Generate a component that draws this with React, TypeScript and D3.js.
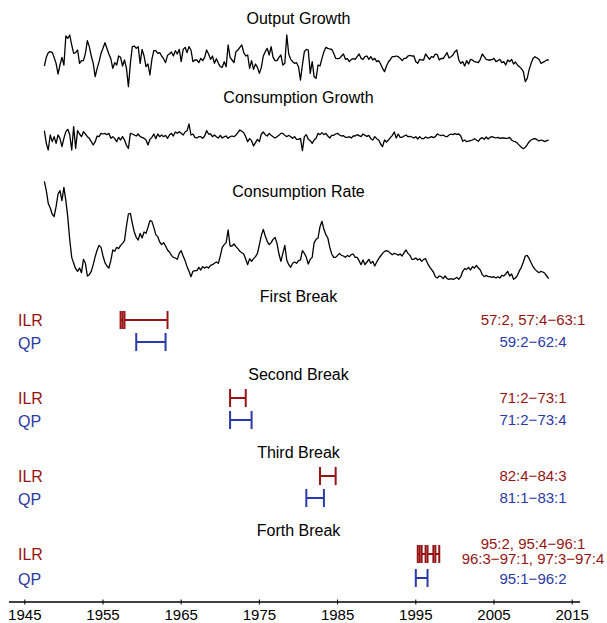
import React from "react";
import * as d3 from "d3";

// Quarterly data, first observation 1947Q3
const startYear = 1947.5;

const outputGrowth = [
  -1.15, 0.15, 0.85, 1.0, 0.9, 0.15, -0.75, -2.35, -1.0, 0.15,
  -1.0, 3.35, 3.0, 3.5, 2.0, 0.75, 0.85, 1.25, -0.75, -0.35,
  -0.35, 0.75, 2.65, 1.75, 0.35, -0.75, -2.75, -1.5, -0.5, 0.75,
  1.5, 2.35, 1.5, 0.65, -0.05, -1.5, -0.65, -1.0, 0.35, 0.15,
  -1.15, -0.25, -1.5, -4.25, -0.75, 1.75, 1.85, 1.5, 1.75, -0.75,
  1.35, 0.35, -1.25, -0.85, -2.5, -0.15, 1.15, 1.15, 0.75, 0.85,
  0.35, -0.05, -0.65, 0.45, 0.65, 0.95, 0.35, 1.15, 0.65, 1.35,
  -0.5, 1.35, 1.65, 0.85, 1.75, 1.25, -0.5, -0.25, -0.25, -0.65,
  0, -0.35, 0.15, 1.25, 0.65, -0.15, 0.35, -0.75, -0.05, -0.75,
  -1.25, -1.35, -0.5, -1.25, 2.0, 0.15, -0.25, -0.65, 1.0, 1.25,
  1.65, 2.0, 0.85, 0.35, 0.5, -1.5, -0.35, -1.65, -0.85, -1.35,
  -2.25, -1.35, 0.35, 1.0, 1.5, 0.5, 1.75, 0.15, -0.35, -0.35,
  0.15, 0.5, -1.0, -0.75, 3.5, 0.65, -0.15, -0.5, -0.75, -0.65,
  -1.25, -3.25, -1.0, 1.0, 1.35, 1.25, -2.25, -0.5, -2.75, -3.0,
  -1.0, -1.15, 0, 1.0, 1.65, 1.5, 1.4, 1.35, 0.75, 0,
  -0.05, 0, 0.35, 0.65, -0.15, -0.05, -0.5, -0.15, -0.05, -0.15,
  0.25, 0.65, 0, -0.15, 0.25, 0.35, -0.15, 0.25, -0.25, 0,
  -0.5, -0.35, -0.85, -1.5, -2.0, -1.15, -0.55, -0.15, 0.25, 0.25,
  0.35, 0.25, 0, -0.35, 0, 0, 0.35, 0.45, 0.35, 0.35,
  -0.5, -0.75, -0.15, -0.25, -0.25, 0.65, 0.25, -0.15, 0.25, 0.15,
  0.65, 0.55, -0.25, 0, -0.05, 0.4, 0.85, 0.05, 0.25, 0.5,
  1.0, 1.25, -0.25, -0.75, -0.5, -1.15, -0.35, -0.85, -0.15, -0.25,
  -0.5, -0.55, -0.65, -0.15, 0.65, 0.25, -0.15, -0.25, -0.25, -0.2,
  0, -0.5, -0.35, -0.15, -0.65, -0.5, -1.0, -0.25, -0.5, -0.15,
  -0.85, -0.55, -1.0, -1.25, -1.55, -2.0, -3.5, -3.0, -1.65, -0.75,
  0, 0.25, 0.05, -0.15, -0.75, -0.6, -0.45, -0.25, -0.25,
];

const consumptionGrowth = [
  0.9, -1.0, -2.0, 0.25, -0.75, 0, -1.0, 0.25, -0.25, -1.5,
  -0.25, 0.75, 1.1, 0.25, -2.0, 1.5, -1.75, 0.9, 0.4, 0,
  0.75, 0.4, 0, -0.25, -0.75, -1.25, -0.75, 0.1, 0, 0.5,
  0.4, 0.5, 0.3, 0.5, -0.25, 0, -0.3, -0.75, -0.1, -0.5,
  0, -0.5, -1.3, -1.75, 0.5, 0.4, 0.25, 0.1, 0.4, 0,
  -0.1, -0.25, -0.5, -1.25, -0.4, -0.1, 0.4, -0.3, 0.4, 0,
  0.25, 0, 0.2, -0.25, 0.25, 0.5, 0.1, 0.7, 0.5, 0.75,
  0.5, 0.25, 0.7, 0.9, 1.9, 0.25, 0.4, -0.1, -0.2, 0,
  0, -0.25, 0.1, 0.9, 0.4, 0.4, 0, 0.25, 0, -0.2,
  0.2, -0.2, 0, 0.1, -0.25, 0, 0.1, 0, 0.25, 0.6,
  1.0, 0.8, 0.6, 0, -0.75, -0.3, -0.6, -1.4, -0.9, -0.4,
  -0.75, 0.4, 0.7, 0.3, 0.1, 0.5, 0.2, 0, -0.2, 0,
  0.2, 0.5, 0.5, 0.2, 0, 0.2, 0, -0.25, 0, -0.4,
  -0.4, -0.25, -2.1, 0, 0.3, -0.4, -0.6, -1.0, -0.5, -0.25,
  0.5, 0.3, 0.6, 0.3, 0.5, 0.1, -0.2, 0.2, 0.2, 0.4,
  0.5, 0.25, 0.1, 0.15, -0.1, -0.1, 0, -0.2, 0.1, 0.1,
  0.3, 0.15, 0, 0.4, 0.2, 0.05, 0.2, -0.3, -0.5, 0,
  -0.3, -0.5, -1.1, -1.5, -0.5, -0.8, -0.5, -0.15, 0.2, 0.7,
  -0.2, 0.4, -0.1, -0.1, 0.1, 0.25, 0, 0.05, -0.05, -0.2,
  0, -0.35, 0, -0.3, -0.3, -0.05, -0.2, -0.15, 0, -0.15,
  0, 0.4, 0.25, 0.15, 0.25, 0.05, 0, 0.25, 0.4, 0.3,
  0.45, 0.35, 0.4, 0.1, -0.7, -0.5, -0.75, -0.65, -0.6, -0.5,
  -0.3, -0.5, -0.7, -0.3, -0.15, -0.4, -0.05, -0.35, -0.1, 0,
  -0.1, -0.2, -0.1, -0.25, -0.2, -0.2, -0.25, -0.25, -0.1, -0.5,
  -0.7, -0.75, -1.0, -1.3, -1.6, -1.8, -1.6, -1.2, -0.75, -0.5,
  -0.35, -0.3, -0.45, -0.65, -0.5, -0.6, -0.75, -0.6, -0.5,
];

const consumptionRate = [
  0.933, 0.919, 0.900, 0.893, 0.884, 0.880, 0.895, 0.914, 0.919, 0.904,
  0.924, 0.904, 0.879, 0.845, 0.819, 0.810, 0.802, 0.798, 0.803, 0.796,
  0.816, 0.810, 0.791, 0.793, 0.798, 0.808, 0.820, 0.830, 0.837, 0.834,
  0.821, 0.811, 0.806, 0.803, 0.814, 0.830, 0.828, 0.834, 0.832, 0.837,
  0.840, 0.844, 0.866, 0.884, 0.885, 0.870, 0.857, 0.849, 0.845, 0.855,
  0.848, 0.857, 0.855, 0.864, 0.874, 0.873, 0.864, 0.853, 0.850, 0.842,
  0.838, 0.841, 0.836, 0.830, 0.827, 0.822, 0.819, 0.818, 0.816, 0.825,
  0.829, 0.821, 0.814, 0.805, 0.798, 0.790, 0.798, 0.799, 0.799, 0.804,
  0.800, 0.805, 0.803, 0.805, 0.803, 0.807, 0.808, 0.810, 0.812, 0.810,
  0.821, 0.834, 0.838, 0.841, 0.860, 0.836, 0.836, 0.839, 0.835, 0.832,
  0.828, 0.826, 0.824, 0.816, 0.808, 0.817, 0.813, 0.817, 0.820, 0.825,
  0.838, 0.852, 0.861, 0.851, 0.843, 0.838, 0.841, 0.846, 0.849, 0.840,
  0.824, 0.813, 0.825, 0.837, 0.815, 0.808, 0.804, 0.810, 0.812, 0.810,
  0.814, 0.815, 0.829, 0.825, 0.819, 0.809, 0.816, 0.819, 0.841, 0.846,
  0.848, 0.865, 0.873, 0.861, 0.853, 0.848, 0.834, 0.824, 0.819, 0.819,
  0.822, 0.825, 0.822, 0.821, 0.819, 0.822, 0.820, 0.823, 0.824, 0.819,
  0.819, 0.814, 0.808, 0.815, 0.808, 0.812, 0.816, 0.810, 0.813, 0.806,
  0.812, 0.817, 0.821, 0.825, 0.828, 0.829, 0.828, 0.825, 0.823, 0.825,
  0.824, 0.822, 0.824, 0.821, 0.826, 0.830, 0.825, 0.822, 0.816, 0.816,
  0.818, 0.815, 0.817, 0.813, 0.816, 0.817, 0.810, 0.805, 0.801, 0.797,
  0.790, 0.788, 0.791, 0.790, 0.787, 0.791, 0.787, 0.786, 0.787, 0.786,
  0.787, 0.789, 0.786, 0.790, 0.798, 0.802, 0.801, 0.804, 0.800, 0.805,
  0.803, 0.807, 0.803, 0.800, 0.793, 0.790, 0.792, 0.790, 0.790, 0.789,
  0.790, 0.788, 0.790, 0.788, 0.792, 0.791, 0.794, 0.798, 0.791, 0.794,
  0.786, 0.788, 0.792, 0.799, 0.804, 0.812, 0.821, 0.822, 0.817, 0.811,
  0.805, 0.801, 0.798, 0.796, 0.798, 0.797, 0.795, 0.791, 0.787,
];

const seriesTitles = ["Output Growth", "Consumption Growth", "Consumption Rate"];
const tickYears = [1945, 1955, 1965, 1975, 1985, 1995, 2005, 2015];

const breakTitles = ["First Break", "Second Break", "Third Break", "Forth Break"];
const ilrBreaks = [
  [["57:2", "57:2"], ["57:4", "63:1"]],
  [["71:2", "73:1"]],
  [["82:4", "84:3"]],
  [["95:2", "95:2"], ["95:4", "96:1"], ["96:3", "97:1"], ["97:3", "97:4"]],
];
const qpBreaks = [
  [["59:2", "62:4"]],
  [["71:2", "73:4"]],
  [["81:1", "83:1"]],
  [["95:1", "96:2"]],
];
const ilrLabels = [
  ["57:2, 57:4\u221263:1"],
  ["71:2\u221273:1"],
  ["82:4\u221284:3"],
  ["95:2, 95:4\u221296:1", "96:3\u221297:1, 97:3\u221297:4"],
];
const qpLabels = ["59:2\u221262:4", "71:2\u221273:4", "81:1\u221283:1", "95:1\u221296:2"];

const W = 607;
const H = 623;
const FONT = "'Liberation Sans', Arial, Helvetica, sans-serif";
const RED = "#961414";
const BLUE = "#2a3aa6";

const x = d3.scaleLinear().domain([1945, 2015]).range([24.8, 572.2]);

const panels = [
  { title: seriesTitles[0], data: outputGrowth, titleY: 23.5,
    y: d3.scaleLinear().domain([-4.25, 3.5]).range([86.67, 35]) },
  { title: seriesTitles[1], data: consumptionGrowth, titleY: 102.5,
    y: d3.scaleLinear().domain([-2, 2]).range([150, 123.33]) },
  { title: seriesTitles[2], data: consumptionRate, titleY: 197,
    y: d3.scaleLinear().domain([0.785, 0.95]).range([280, 170]) },
];

function qTime(s: string, end: boolean) {
  const [yy, q] = s.split(":").map(Number);
  return 1900 + yy + (end ? q : q - 1) / 4;
}

const blocks = [
  { titleY: 302, ilrY: 320, qpY: 342, ilrText: [325], qpText: 347 },
  { titleY: 380, ilrY: 398, qpY: 420, ilrText: [403], qpText: 425 },
  { titleY: 458, ilrY: 476, qpY: 498, ilrText: [481], qpText: 503 },
  { titleY: 536, ilrY: 554, qpY: 578, ilrText: [548.5, 564], qpText: 584 },
];

const axisY = 602;
const midX = (x(1945) + x(2015)) / 2;

function Intervals({ list, y, color }: { list: string[][]; y: number; color: string }) {
  return (
    <g stroke={color} strokeWidth={2} fill="none">
      {list.map(([a, b], i) => {
        const x0 = x(qTime(a, false));
        const x1 = x(qTime(b, true));
        return (
          <g key={i}>
            <line x1={x0} x2={x1} y1={y} y2={y} />
            <line x1={x0} x2={x0} y1={y - 9} y2={y + 9} />
            <line x1={x1} x2={x1} y1={y - 9} y2={y + 9} />
          </g>
        );
      })}
    </g>
  );
}

export default function App() {
  return (
    <svg width={W} height={H} style={{ position: "absolute", left: 0, top: 0, background: "#fff" }}
      fontFamily={FONT}>
      <rect width={W} height={H} fill="#fff" />
      {panels.map((p, i) => {
        const line = d3.line<number>()
          .x((_, k) => x(startYear + k / 4))
          .y((d) => p.y(d));
        return (
          <g key={i}>
            <text x={midX} y={p.titleY} textAnchor="middle" fontSize={16} fill="#000">{p.title}</text>
            <path d={line(p.data) || ""} fill="none" stroke="#000" strokeWidth={1.3} strokeLinejoin="round" />
          </g>
        );
      })}
      {blocks.map((b, i) => (
        <g key={i}>
          <text x={midX} y={b.titleY} textAnchor="middle" fontSize={16} fill="#000">{breakTitles[i]}</text>
          <text x={18} y={b.ilrY + 6} fontSize={16} fill={RED}>ILR</text>
          <text x={18} y={b.qpY + 6.5} fontSize={16} fill={BLUE}>QP</text>
          <Intervals list={ilrBreaks[i]} y={b.ilrY} color={RED} />
          <Intervals list={qpBreaks[i]} y={b.qpY} color={BLUE} />
          {ilrLabels[i].map((t, j) => (
            <text key={j} x={533} y={b.ilrText[j]} textAnchor="middle" fontSize={15} fill={RED}>{t}</text>
          ))}
          <text x={533} y={b.qpText} textAnchor="middle" fontSize={15} fill={BLUE}>{qpLabels[i]}</text>
        </g>
      ))}
      <g>
        <line x1={9} x2={580} y1={axisY} y2={axisY} stroke="#000" strokeWidth={1.3} />
        {tickYears.map((yr) => (
          <g key={yr}>
            <line x1={x(yr)} x2={x(yr)} y1={axisY - 2.5} y2={axisY + 2.5} stroke="#000" strokeWidth={1} />
            <text x={x(yr)} y={620} textAnchor="middle" fontSize={15} fill="#000">{yr}</text>
          </g>
        ))}
      </g>
    </svg>
  );
}
